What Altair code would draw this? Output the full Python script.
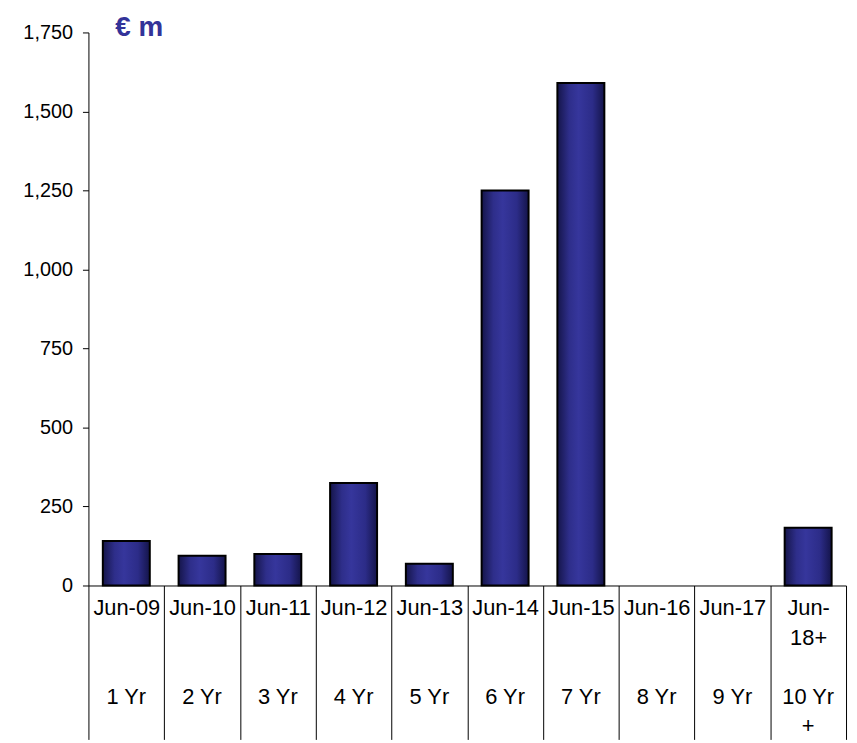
import altair as alt
import pandas as pd

# Data
dates = ["Jun-09", "Jun-10", "Jun-11", "Jun-12", "Jun-13",
         "Jun-14", "Jun-15", "Jun-16", "Jun-17", "Jun-|18+"]
tenors = ["1 Yr", "2 Yr", "3 Yr", "4 Yr", "5 Yr",
          "6 Yr", "7 Yr", "8 Yr", "9 Yr", "10 Yr|+"]
values = [141, 94, 100, 324, 69, 1250, 1590, 0, 0, 183]
y_ticks = [0, 250, 500, 750, 1000, 1250, 1500, 1750]

df = pd.DataFrame({"date": dates, "tenor": tenors, "value": values})

FONT = "Liberation Sans"
W, H = 763, 557

grad = alt.LinearGradient(
    gradient="linear",
    stops=[
        alt.GradientStop(color="#15154a", offset=0),
        alt.GradientStop(color="#2e2e8a", offset=0.25),
        alt.GradientStop(color="#36369c", offset=0.45),
        alt.GradientStop(color="#2c2c88", offset=0.75),
        alt.GradientStop(color="#14144a", offset=1),
    ],
    x1=0, x2=1, y1=0, y2=0,
)

x_enc = alt.X(
    "date:N",
    sort=dates,
    scale=alt.Scale(paddingInner=0, paddingOuter=0),
    axis=alt.Axis(
        title=None,
        labelAngle=0,
        labelExpr="split(datum.label, '|')",
        tickBand="extent",
        tickSize=155,
        tickColor="black",
        domainColor="black",
        labelPadding=-143,
        labelLineHeight=30,
        labelFontSize=22,
        labelFont=FONT,
        labelColor="black",
        labelOverlap=False,
        labelBaseline="top",
    ),
)

bars = (
    alt.Chart(df)
    .mark_bar(fill=grad, stroke="black", strokeWidth=2,
              width=alt.RelativeBandSize(0.62))
    .encode(
        x=x_enc,
        y=alt.Y(
            "value:Q",
            scale=alt.Scale(domain=[0, 1750], nice=False),
            axis=alt.Axis(
                title=None,
                values=y_ticks,
                format=",d",
                grid=False,
                tickSize=6,
                tickColor="black",
                domainColor="black",
                labelPadding=10,
                labelFontSize=20,
                labelFont=FONT,
                labelColor="black",
            ),
        ),
        strokeOpacity=alt.condition("datum.value > 0", alt.value(1), alt.value(0)),
    )
)

tenor_text = (
    alt.Chart(df)
    .mark_text(font=FONT, fontSize=22, color="black", baseline="top",
               align="center", lineBreak="|", lineHeight=30)
    .encode(
        x=alt.X("date:N", sort=dates),
        y=alt.value(H + 102),
        text="tenor:N",
    )
)

chart = (
    alt.layer(bars, tenor_text)
    .properties(
        width=W,
        height=H,
        title=alt.TitleParams(
            "€ m", anchor="start", frame="group", fontSize=28,
            fontWeight="bold", color="#333399", font=FONT,
            dx=27, dy=42, offset=0, baseline="alphabetic",
        ),
        padding={"left": 81, "top": 22, "right": 3, "bottom": 155},
        autosize="none",
    )
    .configure_view(stroke=None)
)

chart.save("out.html", embed_options={"renderer": "svg", "actions": False})
